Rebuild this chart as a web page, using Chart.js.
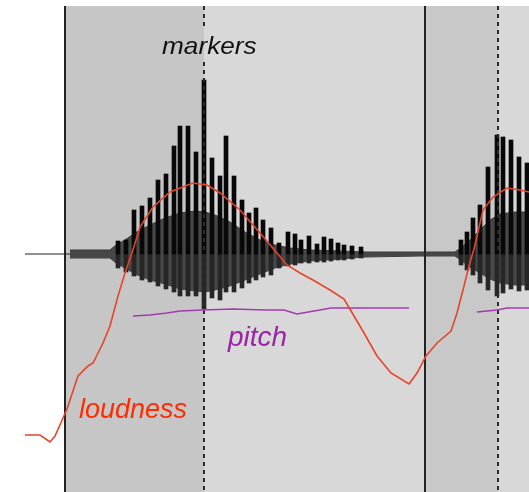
<!DOCTYPE html>
<html>
<head>
<meta charset="utf-8">
<script src="https://cdn.jsdelivr.net/npm/chart.js@4/dist/chart.umd.min.js"></script>
<style>
  html, body { margin: 0; padding: 0; background: #fff; }
  #wrap { width: 529px; height: 492px; }
</style>
</head>
<body>
<div id="wrap"><canvas id="graph"></canvas></div>
<script>
// diagram units: x = time position, y = level (0 at top, baseline at 254)
const panelTop = 6;
const regionEdges = [65, 204, 425, 498, 529];
const regionShades = ['#c6c6c6', '#d8d8d8', '#c8c8c8', '#d8d8d8'];
const boundaryX = [65, 425];
const markerX = [204, 498];
const baseline = 254;
const baselineStart = 25;

const loudnessX = [25, 40, 50, 55, 67, 78, 88, 93, 103, 110, 118, 125, 132, 140, 153, 170, 193, 207, 220, 240, 260, 277, 287, 300, 313, 330, 344, 354, 364, 377, 391, 409, 417, 426, 437, 451, 457, 464, 469, 474, 483, 493, 507, 520, 529];
const loudnessY = [435, 435, 442, 436, 409, 376, 366, 363, 343, 326, 296, 273, 253, 227, 207, 192, 183, 185, 193, 210, 233, 253, 265, 273, 280, 290, 299, 316, 333, 356, 373, 384, 373, 356, 343, 331, 313, 286, 266, 249, 210, 197, 188, 190, 192];

const pitchX = [133, 150, 167, 180, 203, 233, 265, 284, 297, 314, 331, 364, 409, 440, 477, 497, 507, 529];
const pitchY = [316, 315, 313, 311, 310, 309, 310, 310, 314, 311, 308, 308, 308, null, 312, 310, 308, 308];

// dense part of the waveform (upper / lower envelope)
const coreX = [70, 110, 116, 125, 135, 150, 165, 180, 195, 205, 215, 230, 245, 260, 275, 290, 310, 340, 365, 420, 455, 462, 470, 480, 490, 500, 515, 529];
const coreTop = [250, 250, 245, 240, 233, 225, 218, 213, 211, 212, 215, 222, 232, 240, 245, 248, 250, 251, 252, 252, 252, 247, 240, 230, 220, 214, 212, 212];
const coreBottom = [258, 258, 263, 268, 274, 280, 284, 289, 291, 292, 290, 286, 280, 274, 268, 264, 261, 259, 257, 256, 256, 261, 267, 273, 279, 283, 285, 285];

// individual peaks of the waveform
const peakX = [118, 126, 134, 142, 150, 158, 166, 174, 180, 188, 196, 204, 212, 220, 226, 234, 242, 249, 256, 263, 271, 279, 288, 295, 301, 309, 317, 324, 331, 338, 344, 352, 361, 461, 467, 473, 480, 488, 497, 503, 511, 519, 527];
const peakTop = [241, 240, 210, 206, 198, 180, 174, 146, 126, 126, 152, 80, 158, 176, 136, 176, 200, 213, 208, 220, 228, 243, 232, 234, 240, 236, 244, 237, 239, 243, 245, 246, 247, 240, 232, 218, 205, 167, 135, 137, 140, 157, 163];
const peakBottom = [268, 272, 276, 280, 282, 286, 289, 292, 296, 296, 296, 309, 298, 300, 292, 292, 288, 283, 280, 277, 275, 268, 266, 265, 263, 263, 262, 262, 261, 260, 260, 259, 258, 265, 270, 275, 283, 290, 296, 293, 289, 291, 290];

const pts = (xs, ys) => xs.map((x, i) => ({ x: x, y: ys[i] }));
const vline = (x) => [{ x: x, y: panelTop }, { x: x, y: 492 }];

const panelPlugin = {
  id: 'panel',
  beforeDatasetsDraw(chart) {
    const { ctx, scales: { x, y } } = chart;
    ctx.save();
    for (let i = 0; i < regionShades.length; i++) {
      const x0 = x.getPixelForValue(regionEdges[i]);
      const x1 = x.getPixelForValue(regionEdges[i + 1]);
      const y0 = y.getPixelForValue(panelTop);
      const y1 = y.getPixelForValue(492);
      ctx.fillStyle = regionShades[i];
      ctx.fillRect(x0, y0, x1 - x0, y1 - y0);
    }
    ctx.restore();
  },
  afterDatasetsDraw(chart) {
    const { ctx } = chart;
    ctx.save();
    ctx.textBaseline = 'alphabetic';
    // markers
    ctx.save();
    ctx.translate(162, 54);
    ctx.scale(1.14, 1);
    ctx.font = 'italic 23px "Liberation Sans", Arial, sans-serif';
    ctx.fillStyle = '#111';
    ctx.fillText('markers', 0, 0);
    ctx.restore();
    ctx.font = 'italic 28px "Liberation Sans", Arial, sans-serif';
    ctx.fillStyle = '#9c22a6';
    ctx.fillText('pitch', 228, 346);
    ctx.font = 'italic 27px "Liberation Sans", Arial, sans-serif';
    ctx.fillStyle = '#ff2c00';
    ctx.fillText('loudness', 79, 418);
    ctx.restore();
  }
};

const lineDs = (data, color, width, order, extra) => Object.assign({
  type: 'line',
  data: data,
  borderColor: color,
  borderWidth: width,
  pointRadius: 0,
  tension: 0,
  fill: false,
  order: order,
  spanGaps: false
}, extra || {});

const datasets = [
  lineDs([{ x: baselineStart, y: baseline }, { x: 529, y: baseline }], '#222', 1.2, 20),
  lineDs(pts(coreX, coreTop), '#3a3a3a', 1, 19, { fill: '+1', backgroundColor: '#474747' }),
  lineDs(pts(coreX, coreBottom), '#3a3a3a', 1, 19),
  {
    type: 'bar',
    data: peakX.map((x, i) => ({ x: x, y: [baseline, peakBottom[i]] })),
    backgroundColor: '#262626',
    barThickness: 4,
    grouped: false,
    order: 18
  },
  {
    type: 'bar',
    data: peakX.map((x, i) => ({ x: x, y: [baseline, peakTop[i]] })),
    backgroundColor: '#080808',
    barThickness: 4,
    grouped: false,
    order: 17
  },
  lineDs(vline(boundaryX[0]), '#222', 2, 16),
  lineDs(vline(boundaryX[1]), '#222', 2, 16),
  lineDs([{ x: markerX[0], y: panelTop }, { x: markerX[0], y: 28 }, { x: markerX[0], y: null }, { x: markerX[0], y: 62 }, { x: markerX[0], y: 492 }], '#2a2a2a', 2, 15, { borderDash: [4, 4], borderCapStyle: 'butt' }),
  lineDs(vline(markerX[1]), '#2a2a2a', 2, 15, { borderDash: [4, 4], borderCapStyle: 'butt' }),
  lineDs(pts(pitchX, pitchY), '#a33ab0', 1.5, 4),
  lineDs(pts(loudnessX, loudnessY), '#e8442a', 1.6, 3)
];

const ctx = document.getElementById('graph').getContext('2d');
const chart = new Chart(ctx, {
  type: 'bar',
  data: { datasets: datasets },
  options: {
    responsive: true,
    maintainAspectRatio: false,
    animation: false,
    layout: { padding: 0 },
    scales: {
      x: { type: 'linear', min: 0, max: 529, display: false, offset: false },
      y: { type: 'linear', min: 0, max: 492, reverse: true, display: false }
    },
    plugins: {
      legend: { display: false },
      tooltip: { enabled: false }
    }
  },
  plugins: [panelPlugin]
});
</script>
</body>
</html>
